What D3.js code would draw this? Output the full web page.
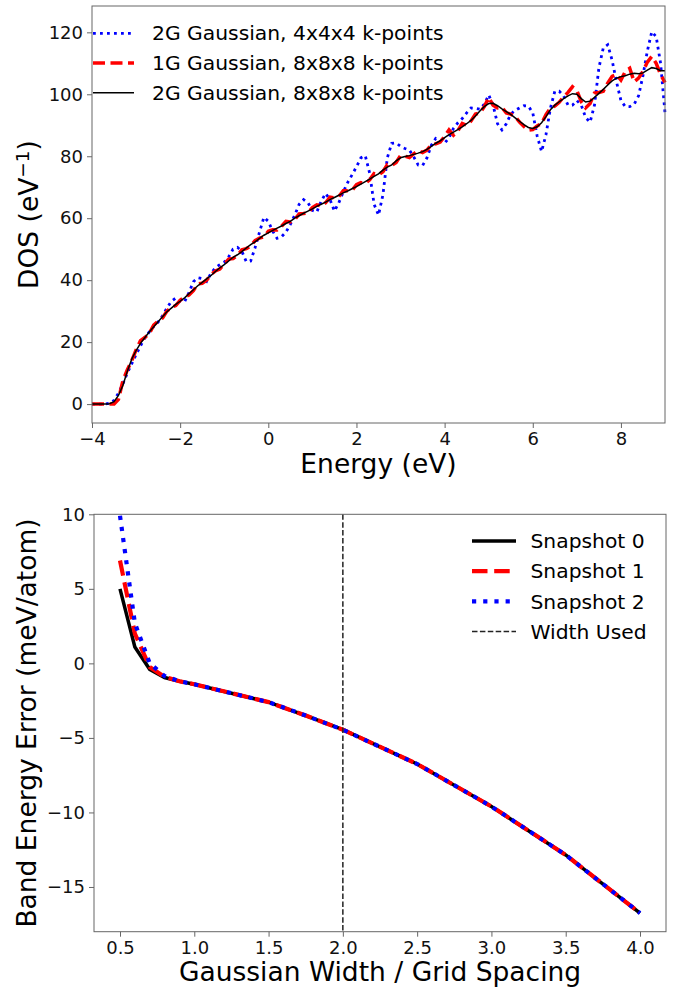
<!DOCTYPE html>
<html>
<head>
<meta charset="utf-8">
<script src="https://cdn.jsdelivr.net/npm/d3@7"></script>
<style>
  body { margin: 0; background: #fff; }
  svg { font-family: "DejaVu Sans", sans-serif; }
</style>
</head>
<body>
<svg id="chart"></svg>
<script>

// energy grid of the DOS curves, -4 to 9 eV in 0.1 eV steps
var energy = d3.range(-40, 91).map(function(i) { return i / 10; })

// 2G Gaussian, 4x4x4 k-points
var dos2G4 = [0, 0, 0, 0, 0.3, 1.2, 3.5, 6.5, 10.0, 13.0,
  16.0, 18.8, 21.4, 23.3, 25.0, 26.5, 28.5, 31.0, 33.2, 34.2,
  33.2, 33.0, 36.0, 39.5, 40.8, 40.5, 39.6, 42.2, 44.0, 45.0,
  45.8, 47.5, 50.0, 50.6, 49.3, 46.0, 46.2, 50.5, 55.5, 60.3,
  59.0, 55.8, 53.5, 54.0, 55.5, 58.0, 61.0, 64.5, 66.0, 65.0,
  62.5, 62.0, 65.5, 68.0, 66.0, 62.3, 65.0, 68.5, 71.5, 74.0,
  76.6, 79.5, 80.2, 74.5, 64.5, 61.0, 67.5, 79.5, 84.2, 84.3,
  83.2, 82.5, 82.0, 79.8, 77.2, 77.0, 79.5, 83.6, 85.8, 85.5,
  84.2, 86.0, 89.0, 90.8, 92.2, 94.0, 95.6, 95.5, 95.2, 96.8,
  99.8, 96.5, 90.5, 88.5, 90.5, 93.6, 94.8, 95.6, 96.3, 96.2,
  94.0, 86.5, 81.5, 87.0, 95.5, 101.0, 101.0, 99.5, 96.5, 96.5,
  98.0, 96.5, 92.5, 91.0, 96.5, 108.5, 115.0, 116.0, 111.0, 104.0,
  98.0, 96.0, 96.0, 96.8, 99.5, 106.0, 114.0, 120.2, 118.6, 110.0,
  94.0]

// 1G Gaussian, 8x8x8 k-points
var dos1G8 = [0, 0, 0, 0, 0, 0, 1.5, 7.5, 11.0, 14.0,
  17.5, 20.5, 21.5, 22.8, 25.5, 26.8, 27.8, 30.0, 31.2, 31.8,
  33.5, 34.6, 35.2, 36.6, 38.8, 39.0, 40.0, 41.8, 43.0, 43.6,
  45.2, 46.8, 47.0, 48.0, 49.8, 50.2, 51.0, 52.8, 53.6, 54.0,
  55.8, 56.3, 56.2, 57.4, 59.0, 58.8, 59.6, 61.4, 61.5, 61.8,
  63.4, 64.3, 64.0, 65.0, 66.8, 66.6, 67.0, 68.9, 68.9, 69.0,
  70.8, 71.5, 71.2, 72.4, 74.4, 74.0, 75.0, 77.3, 77.0, 78.0,
  80.2, 80.0, 79.6, 80.8, 81.8, 81.2, 82.0, 83.8, 84.0, 84.6,
  86.4, 88.5, 86.8, 88.2, 90.6, 90.0, 91.4, 93.6, 94.0, 96.0,
  99.0, 96.5, 95.6, 95.8, 94.0, 93.6, 92.8, 91.0, 89.6, 88.4,
  88.6, 89.8, 90.6, 93.4, 95.5, 96.2, 97.4, 99.2, 100.6, 102.4,
  101.2, 97.6, 95.6, 97.0, 100.4, 100.6, 101.0, 103.6, 105.8, 106.4,
  104.6, 107.4, 108.4, 104.0, 105.2, 107.4, 110.4, 112.2, 110.0, 106.4,
  103.8]

// 2G Gaussian, 8x8x8 k-points
var dos2G8 = [0, 0, 0, 0, 0.1, 0.8, 2.8, 6.0, 10.5, 14.5,
  17.3, 19.6, 21.5, 23.3, 25.0, 26.6, 28.2, 29.8, 31.0, 32.2,
  33.2, 34.3, 35.6, 36.9, 38.2, 39.3, 40.4, 41.5, 42.8, 44.0,
  45.0, 46.2, 47.4, 48.2, 49.2, 50.4, 51.5, 52.4, 53.5, 54.5,
  55.3, 56.1, 56.8, 57.5, 58.3, 59.0, 60.0, 60.8, 61.6, 62.3,
  63.0, 63.8, 64.5, 65.2, 66.0, 66.7, 67.4, 68.2, 68.8, 69.5,
  70.2, 71.0, 71.8, 72.6, 73.5, 74.3, 75.5, 76.5, 77.2, 78.5,
  79.5, 79.9, 80.2, 80.6, 81.0, 81.5, 82.2, 83.2, 84.2, 85.0,
  86.0, 87.0, 87.8, 88.6, 89.5, 90.5, 91.6, 93.0, 94.6, 96.0,
  97.0, 97.1, 96.3, 95.3, 94.4, 93.5, 92.4, 91.3, 90.2, 89.3,
  89.0, 89.5, 90.8, 92.8, 95.0, 96.5, 97.6, 98.6, 99.5, 100.2,
  100.0, 98.6, 97.5, 97.8, 99.0, 100.3, 101.6, 103.0, 104.3, 105.2,
  105.7, 106.0, 106.5, 106.8, 106.6, 106.9, 107.8, 108.6, 108.3, 107.6,
  107.6]

var dosLabels = ["2G Gaussian, 4x4x4 k-points", "1G Gaussian, 8x8x8 k-points", "2G Gaussian, 8x8x8 k-points"]
var energyTicks = [-4, -2, 0, 2, 4, 6, 8]
var dosTicks = [0, 20, 40, 60, 80, 100, 120]

// band energy error vs gaussian width / grid spacing
var widthRatio = [0.5, 0.6, 0.7, 0.8, 0.9, 1.0, 1.25, 1.5, 1.75, 2.0, 2.5, 3.0, 3.5, 4.0]
var snapshot0 = [5.0, 1.1, -0.4, -0.95, -1.2, -1.4, -2.0, -2.6, -3.5, -4.45, -6.75, -9.6, -12.85, -16.75]
var snapshot1 = [6.9, 2.0, -0.25, -0.9, -1.2, -1.4, -2.0, -2.6, -3.5, -4.45, -6.75, -9.6, -12.85, -16.75]
var snapshot2 = [9.9, 2.7, 0.0, -0.85, -1.2, -1.4, -2.0, -2.6, -3.5, -4.45, -6.75, -9.6, -12.85, -16.75]
var snapshotLabels = ["Snapshot 0", "Snapshot 1", "Snapshot 2", "Width Used"]
var widthUsed = 2.0
var ratioTicks = [0.5, 1.0, 1.5, 2.0, 2.5, 3.0, 3.5, 4.0]
var errorTicks = [-15, -10, -5, 0, 5, 10]

var dimensions = { width: 681, height: 990 }

var svg = d3.select("#chart")
  .attr("width", dimensions.width)
  .attr("height", dimensions.height)

var frameColor = "#666"
var tickFont = "18px"
var labelFont = "26.5px"
var legendFont = "20.3px"

// ---------- top panel: DOS ----------
var dosBox = { left: 92, right: 665, top: 6, bottom: 423 }

var x1 = d3.scaleLinear().domain([-4, 9]).range([dosBox.left, dosBox.right])
var y1 = d3.scaleLinear().domain([-6.1, 128.5]).range([dosBox.bottom, dosBox.top])

var xAxis1 = svg.append("g")
  .attr("transform", "translate(0," + dosBox.bottom + ")")
  .call(d3.axisBottom(x1).tickValues(energyTicks).tickSize(5).tickPadding(4.5))
var yAxis1 = svg.append("g")
  .attr("transform", "translate(" + dosBox.left + ",0)")
  .call(d3.axisLeft(y1).tickValues(dosTicks).tickSize(5).tickPadding(4))

var curves = [
  { values: dos2G4, color: "#0000ff", width: 2.8, dash: "2.8,4.2" },
  { values: dos1G8, color: "#ff0000", width: 3.5, dash: "12,5.5" },
  { values: dos2G8, color: "#000000", width: 1.5, dash: null }
]

var line1 = d3.line()
  .x(function(d) { return x1(d[0]); })
  .y(function(d) { return y1(d[1]); })

curves.forEach(function(c) {
  svg.append("path")
    .datum(energy.map(function(e, i) { return [e, c.values[i]]; }))
    .attr("fill", "none")
    .attr("stroke", c.color)
    .attr("stroke-width", c.width)
    .attr("stroke-dasharray", c.dash)
    .attr("d", line1)
})

svg.append("rect")
  .attr("x", dosBox.left).attr("y", dosBox.top)
  .attr("width", dosBox.right - dosBox.left).attr("height", dosBox.bottom - dosBox.top)
  .attr("fill", "none").attr("stroke", frameColor).attr("stroke-width", 1)

// top legend
var legend1 = svg.append("g")
curves.forEach(function(c, i) {
  var ly = 33.3 + i * 29.7
  legend1.append("line")
    .attr("x1", 93).attr("x2", 134).attr("y1", ly).attr("y2", ly)
    .attr("stroke", c.color).attr("stroke-width", c.width)
    .attr("stroke-dasharray", c.dash)
  legend1.append("text")
    .text(dosLabels[i])
    .attr("x", 152).attr("y", ly)
    .attr("dy", "0.35em")
    .style("font-size", legendFont)
})

svg.append("text")
  .text("Energy (eV)")
  .attr("text-anchor", "middle")
  .attr("x", (dosBox.left + dosBox.right) / 2)
  .attr("y", 472.5)
  .style("font-size", labelFont)

var dosTitle = svg.append("text")
  .attr("text-anchor", "middle")
  .attr("transform", "translate(37.5," + ((dosBox.top + dosBox.bottom) / 2) + ") rotate(-90)")
  .style("font-size", labelFont)
dosTitle.append("tspan").text("DOS (eV")
dosTitle.append("tspan").text("\u22121").attr("dy", "-0.45em").style("font-size", "18.5px")
dosTitle.append("tspan").text(")").attr("dy", "0.3em")

// ---------- bottom panel: band energy error ----------
var errBox = { left: 94, right: 666, top: 514.3, bottom: 931.7 }

var x2 = d3.scaleLinear().domain([0.325, 4.175]).range([errBox.left, errBox.right])
var y2 = d3.scaleLinear().domain([-18, 10]).range([errBox.bottom, errBox.top])

var xAxis2 = svg.append("g")
  .attr("transform", "translate(0," + errBox.bottom + ")")
  .call(d3.axisBottom(x2).tickValues(ratioTicks).tickFormat(d3.format(".1f")).tickSize(5).tickPadding(4.5))
var yAxis2 = svg.append("g")
  .attr("transform", "translate(" + errBox.left + ",0)")
  .call(d3.axisLeft(y2).tickValues(errorTicks).tickSize(5).tickPadding(4))

// style all axes like the reference
;[xAxis1, yAxis1, xAxis2, yAxis2].forEach(function(a) {
  a.select(".domain").remove()
  a.selectAll(".tick line").attr("stroke", frameColor)
  a.selectAll(".tick text")
    .attr("fill", "#111")
    .style("font-size", tickFont)
    .style("font-family", "DejaVu Sans")
})

var snaps = [
  { values: snapshot0, color: "#000000", width: 3.5, dash: null },
  { values: snapshot1, color: "#ff0000", width: 4.2, dash: "15.5,6.7" },
  { values: snapshot2, color: "#0000ff", width: 4.2, dash: "4.2,7" }
]

var line2 = d3.line()
  .x(function(d) { return x2(d[0]); })
  .y(function(d) { return y2(d[1]); })

snaps.forEach(function(s) {
  svg.append("path")
    .datum(widthRatio.map(function(w, i) { return [w, s.values[i]]; }))
    .attr("fill", "none")
    .attr("stroke", s.color)
    .attr("stroke-width", s.width)
    .attr("stroke-dasharray", s.dash)
    .attr("d", line2)
})

// vertical marker at the width that was used
svg.append("line")
  .attr("x1", x2(widthUsed)).attr("x2", x2(widthUsed))
  .attr("y1", errBox.top).attr("y2", errBox.bottom)
  .attr("stroke", "#222").attr("stroke-width", 1.5)
  .attr("stroke-dasharray", "5.5,2.4")

svg.append("rect")
  .attr("x", errBox.left).attr("y", errBox.top)
  .attr("width", errBox.right - errBox.left).attr("height", errBox.bottom - errBox.top)
  .attr("fill", "none").attr("stroke", frameColor).attr("stroke-width", 1)

// bottom legend
var legendItems = snaps.concat([{ color: "#222", width: 1.5, dash: "5.5,2.4" }])
var legend2 = svg.append("g")
legendItems.forEach(function(s, i) {
  var ly = 541 + i * 30.2
  legend2.append("line")
    .attr("x1", 472).attr("x2", 516).attr("y1", ly).attr("y2", ly)
    .attr("stroke", s.color).attr("stroke-width", s.width)
    .attr("stroke-dasharray", s.dash)
  legend2.append("text")
    .text(snapshotLabels[i])
    .attr("x", 530.5).attr("y", ly)
    .attr("dy", "0.35em")
    .style("font-size", legendFont)
})

svg.append("text")
  .text("Gaussian Width / Grid Spacing")
  .attr("text-anchor", "middle")
  .attr("x", (errBox.left + errBox.right) / 2)
  .attr("y", 981)
  .style("font-size", labelFont)

svg.append("text")
  .text("Band Energy Error (meV/atom)")
  .attr("text-anchor", "middle")
  .attr("transform", "translate(36," + ((errBox.top + errBox.bottom) / 2) + ") rotate(-90)")
  .style("font-size", labelFont)

</script>
</body>
</html>
